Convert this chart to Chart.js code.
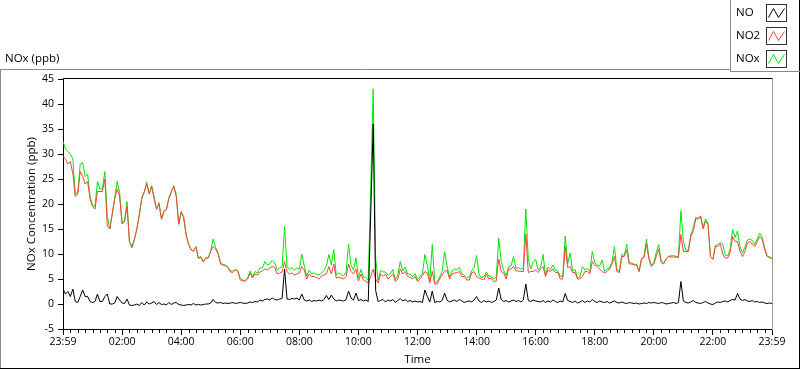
<!DOCTYPE html>
<html>
<head>
<meta charset="utf-8">
<script src="https://cdn.jsdelivr.net/npm/chart.js@4.4.1/dist/chart.umd.min.js"></script>
<style>
  html, body { margin: 0; padding: 0; background: #fff; }
  #wrap { width: 800px; height: 369px; }
</style>
</head>
<body>
<div id="wrap"><canvas id="noxChart" width="800" height="369"></canvas></div>
<script>
// 5-minute samples, 23:59 -> 23:59 (289 points per series)
const seriesNames = ['NO', 'NO2', 'NOx'];
const timeLabels = ['23:59', '02:00', '04:00', '06:00', '08:00', '10:00', '12:00',
                    '14:00', '16:00', '18:00', '20:00', '22:00', '23:59'];
const yTicks = [-5, 0, 5, 10, 15, 20, 25, 30, 35, 40, 45];

const no = [3,2,2.5,1.5,3,0.5,0.3,1.5,2.8,1.5,
  1.5,0.5,0.3,0.5,2,0.5,0.5,1.5,2,0,
  0,0.2,1.5,0.8,0.2,0.1,1,-0.2,-0.3,-0.2,
  0,-0.3,0.3,-0.2,0.4,0,0.2,0.5,-0.1,0.3,
  -0.1,0,-0.2,0.3,-0.1,0.2,0.3,-0.1,-0.2,-0.3,
  -0.2,-0.1,-0.2,0.1,-0.2,-0.1,-0.2,-0.1,0,0,
  0.2,0.9,0.3,0.2,0.3,0.1,0.2,0.1,0.2,0.3,
  0.1,0.2,0.3,0.2,0.1,0.2,0.4,0.3,0.5,0.4,
  0.8,0.6,0.9,1,0.8,1.2,0.9,0.8,1,1.1,
  7,1,0.9,1.1,1,1.2,0.8,2,0.8,0.6,
  0.8,0.5,0.7,0.6,0.8,0.6,0.9,1.7,0.9,1.8,
  1,0.6,0.8,0.7,0.6,0.9,2.6,1.2,0.8,2.2,
  0.7,0.9,0.6,0.8,0.5,18,36,2.7,0.5,0.7,
  0.9,0.4,0.8,0.6,0.9,0.3,0.7,1.1,0.6,0.9,
  0.5,0.7,0.4,0.6,0.4,0.5,0.3,2.8,1.5,0.4,
  2.6,0.3,0.5,0.4,0.7,2.2,0.8,0.4,0.6,0.8,
  0.5,0.9,0.6,0.3,0.5,0.6,0.4,0.8,1.5,0.6,
  0.3,0.7,0.4,0.6,0.3,0.5,0.8,3.2,0.9,0.5,
  0.7,0.4,0.6,0.8,0.5,0.7,0.4,0.8,4,0.7,
  0.5,0.8,0.6,0.5,0.4,0.7,0.3,0.6,0.4,0.8,
  0.5,0.3,0.6,0.4,2.1,0.7,0.5,0.3,0.6,0.2,
  0.4,0.7,0.3,0.6,0.4,0.9,0.5,0.3,0.6,0.4,
  0.3,0.5,0.2,0.4,0.6,0.3,0.2,0.4,0.2,0.1,
  0.3,0.2,0.1,0.2,0,0.1,0.2,0.1,0.3,0.2,
  0.3,0.2,0.1,0.3,0.2,0,0.1,0.2,0.3,0.1,
  0.3,4.5,0.6,0.3,0.2,0.4,0.7,0.3,0.2,0.1,
  0.3,0.5,0.2,0,-0.1,0.2,0.4,0.3,0.5,0.6,
  0.4,0.7,0.9,0.8,2.1,1,0.7,0.9,0.6,0.5,
  0.7,0.4,0.5,0.3,0.4,0.2,0.1,0.2,0.1];

const no2 = [29.5,29,28,28.5,26,21.5,22,26.5,25.5,24,
  24.5,21,19.5,19,22.5,22.5,22.5,25,15.5,15,
  18,21,23,21.5,16,16.5,19.5,12.5,11.5,13,
  15,18,21,22.5,24,22,23.5,21,19,20,
  17,18.5,19,21,22.5,23.5,21.5,16,18.5,17.5,
  14,12,11,10.5,11.5,9.2,9.5,8.5,9.2,9.2,
  10.5,11.5,11,10,8,7.8,7.6,7.3,6.4,6.3,
  6.8,6.5,4.8,4.6,4.6,5,6.2,5.2,6,5.8,
  6.4,6.6,7,6.8,7.2,7.5,7.3,6,6.2,6.4,
  8.5,6.5,6,6.2,5.8,6,6.2,7.5,6.8,5,
  6,5.5,5.5,5.3,5,5.6,5.8,6,7.5,6,
  8,5.2,5.4,5.2,5,5.5,8,6.5,6,7,
  4.6,6,4.8,4.5,4.2,5.5,7,5,4.2,6,
  5.5,6,5,5.5,6,4.5,5,7,6,6.5,
  5.5,5.3,5,5.5,4.5,5,5.7,6.5,6.2,4.2,
  6.5,4,4,5,5.8,6.5,6.8,5,6,6.2,
  6.3,6.5,5.5,5.5,4.8,4.8,6.2,6.5,5.5,5.2,
  5,4.8,6,5,5.2,4.5,4.6,9,6.5,6.2,
  5,7,7,7.5,6.6,6.6,6.5,6.5,14,6.3,
  6.5,6.5,6.8,6.3,7,7.5,5.5,6.8,6.5,7,
  6.3,6.3,5,5,11.5,7.3,7.5,6.3,6.3,5,
  5,5.5,6.5,6.5,6,8.5,7.8,7.5,7,6.5,
  6.2,6.5,7,8,9.5,6.5,6.3,9.5,9.5,10.8,
  8,8,7.8,7.8,6.5,9,9.3,12,9,7.5,
  8,9.5,11,8.3,8,9,9.5,9.4,9.4,9.4,
  9.3,13.9,10.5,10.5,10.5,13.5,14.5,17,17,17.5,
  15,16.5,16,9.5,9,11.5,11.5,12,10,9.2,
  9.2,10.3,13.5,12.5,12.5,10.5,9.5,10.5,12.2,12.5,
  12,11.5,12.5,13.5,13,11,9.5,9.3,9];

const nox = [32.5,31,30.5,30,29,22,22.3,28,28.3,25.5,
  26,21.5,19.8,19.5,24.5,23,23,26.5,17.5,15,
  18,21.2,24.5,22.3,16.2,16.6,20.5,12.3,11.2,12.8,
  15,17.7,21.3,22.3,24.4,22,23.7,21.5,18.9,20.3,
  16.9,18.5,18.8,21.3,22.4,23.7,21.8,15.9,18.3,17.2,
  13.8,11.9,10.8,10.6,11.3,9.1,9.3,8.4,9.2,9.2,
  10.7,13,11.3,10.2,8.3,7.9,7.8,7.4,6.6,6.6,
  6.9,6.7,5.1,4.8,4.7,5.2,6.6,5.5,6.5,6.2,
  7.2,7.2,8.5,7.8,8,8.7,8.2,6.8,7.2,7.5,
  15.5,7.5,6.9,7.3,6.8,7.2,7,10,7.6,5.6,
  6.8,6,6.2,5.9,5.8,6.2,6.7,7.7,9.9,7.8,
  10.9,5.8,6.2,5.9,5.6,6.4,12,7.7,6.8,9.2,
  5.3,6.9,5.4,5.3,4.7,23.5,43,9,4.7,6.7,
  6.4,6.4,5.8,6.1,6.9,4.8,5.7,8.5,6.6,7.4,
  6,6,5.4,6.1,4.9,5.5,6,9.9,7.7,4.6,
  11.9,4.3,4.5,5.4,6.5,10.5,7.6,5.4,6.6,7,
  6.8,7.4,6.1,5.8,5.3,5.4,6.6,7.3,9.7,5.8,
  5.3,5.5,6.4,5.6,5.5,5,5.4,13.2,8.5,6.7,
  5.7,7.4,7.6,9.5,7.1,7.3,6.9,7.3,19,9,
  7,8.5,8.9,6.8,7.4,9.9,5.8,7.4,6.9,7.8,
  6.8,6.6,5.6,5.4,13.6,8,10.2,6.6,6.9,5.2,
  5.4,7.5,6.8,7.1,6.4,10.5,8.3,7.8,7.6,8.8,
  6.5,7,7.2,8.4,11.5,6.8,6.5,9.9,9.7,12,
  8.3,8.2,7.9,8,6.5,9.1,9.5,13,9.3,7.7,
  8.3,10.3,11.9,8.6,8.2,9,9.6,9.6,9.7,9.5,
  9.6,18.7,12.5,10.8,10.7,13.9,15.2,17.3,17.2,17.6,
  15.3,17,16.2,9.5,8.9,11.7,11.9,12.3,12,9.8,
  9.6,11,14.9,13.3,14.6,11.5,10.2,11.4,12.8,13,
  12.7,11.9,13,14.2,13.4,11.2,9.6,9.5,9.1];

// sample times in hours from the 23:59 start
const hours = no.map((_, i) => i * 5 / 60);

const colors = ['#000000', '#ff4040', '#00e800'];
const FONT = "'Open Sans', 'Noto Sans', sans-serif";

// frame lines, minor ticks, the LabVIEW style legend and the top caption
const framePlugin = {
    id: 'frame',
    afterDraw(chart) {
        const ctx = chart.ctx;
        const area = chart.chartArea;
        const xs = chart.scales.x;

        const line = (x1, y1, x2, y2, color) => {
            ctx.strokeStyle = color;
            ctx.beginPath();
            ctx.moveTo(x1, y1);
            ctx.lineTo(x2, y2);
            ctx.stroke();
        };

        ctx.save();
        ctx.lineWidth = 1;

        // outer panel
        line(0, 69.5, 731, 69.5, '#8a8a8a');
        line(0.5, 69, 0.5, 369, '#8a8a8a');
        line(0, 368.5, 800, 368.5, '#000');
        line(799.5, 0, 799.5, 369, '#000');

        // plot box top / right
        line(area.left, 78.5, area.right + 1, 78.5, '#000');
        line(area.right + 0.5, 78.5, area.right + 0.5, area.bottom + 1, '#9a9a9a');

        // minor ticks every 15 min
        ctx.strokeStyle = '#000';
        ctx.beginPath();
        for (let m = 0; m <= 24 * 60; m += 15) {
            if (m % 120 === 0) continue;
            const px = Math.round(xs.getPixelForValue(m / 60)) + 0.5;
            ctx.moveTo(px, area.bottom + 1);
            ctx.lineTo(px, area.bottom + 4);
        }
        ctx.stroke();

        // caption
        ctx.fillStyle = '#000';
        ctx.font = '11.5px ' + FONT;
        ctx.textBaseline = 'middle';
        ctx.textAlign = 'left';
        ctx.fillText('NOx (ppb)', 5, 59);

        // legend box
        line(730.5, 0, 730.5, 72, '#8a8a8a');
        line(730, 71.5, 800, 71.5, '#8a8a8a');
        chart.data.datasets.forEach((ds, k) => {
            const cy = 13 + k * 23;
            ctx.fillStyle = '#000';
            ctx.fillText(ds.label, 736, cy);
            const bx = 766.5, by = cy - 8.5;
            ctx.strokeStyle = '#333';
            ctx.strokeRect(bx, by, 20, 17);
            ctx.strokeStyle = ds.borderColor;
            ctx.beginPath();
            ctx.moveTo(bx + 2, by + 13);
            ctx.lineTo(bx + 7, by + 4);
            ctx.lineTo(bx + 12, by + 13);
            ctx.lineTo(bx + 18, by + 4);
            ctx.stroke();
        });
        ctx.restore();
    }
};

const seriesData = [no, no2, nox];

new Chart(document.getElementById('noxChart'), {
    type: 'line',
    data: {
        labels: hours,
        datasets: seriesNames.map((name, k) => ({
            label: name,
            data: seriesData[k],
            borderColor: colors[k],
            borderWidth: 1,
            pointRadius: 0,
            tension: 0,
            fill: false
        }))
    },
    options: {
        responsive: false,
        animation: false,
        events: [],
        layout: { padding: { left: 0, right: 28, top: 79, bottom: 0 } },
        plugins: {
            legend: { display: false },
            tooltip: { enabled: false }
        },
        scales: {
            x: {
                type: 'linear',
                min: 0,
                max: 24,
                afterFit: s => { s.height = 40; },
                afterBuildTicks: s => {
                    s.ticks = timeLabels.map((_, i) => ({ value: i * 2 }));
                },
                grid: {
                    drawOnChartArea: false,
                    drawTicks: true,
                    tickLength: 6,
                    tickColor: '#000'
                },
                border: { display: true, color: '#000' },
                ticks: {
                    autoSkip: false,
                    maxRotation: 0,
                    padding: 1,
                    color: '#000',
                    font: { family: FONT, size: 10.5 },
                    callback: v => timeLabels[Math.round(v / 2)]
                },
                title: {
                    display: true,
                    text: 'Time',
                    color: '#000',
                    font: { family: FONT, size: 11.5 },
                    padding: { top: 0, bottom: 2 }
                }
            },
            y: {
                min: yTicks[0],
                max: yTicks[yTicks.length - 1],
                afterFit: s => { s.width = 63; },
                afterBuildTicks: s => {
                    s.ticks = yTicks.map(v => ({ value: v }));
                },
                grid: {
                    drawOnChartArea: false,
                    drawTicks: true,
                    tickLength: 5,
                    tickColor: '#000'
                },
                border: { display: true, color: '#000' },
                ticks: {
                    padding: 4,
                    color: '#000',
                    font: { family: FONT, size: 10.5 }
                },
                title: {
                    display: true,
                    text: 'NOx Concentration (ppb)',
                    color: '#000',
                    font: { family: FONT, size: 11.5 },
                    padding: { top: 25, bottom: 0 }
                }
            }
        }
    },
    plugins: [framePlugin]
});
</script>
</body>
</html>
